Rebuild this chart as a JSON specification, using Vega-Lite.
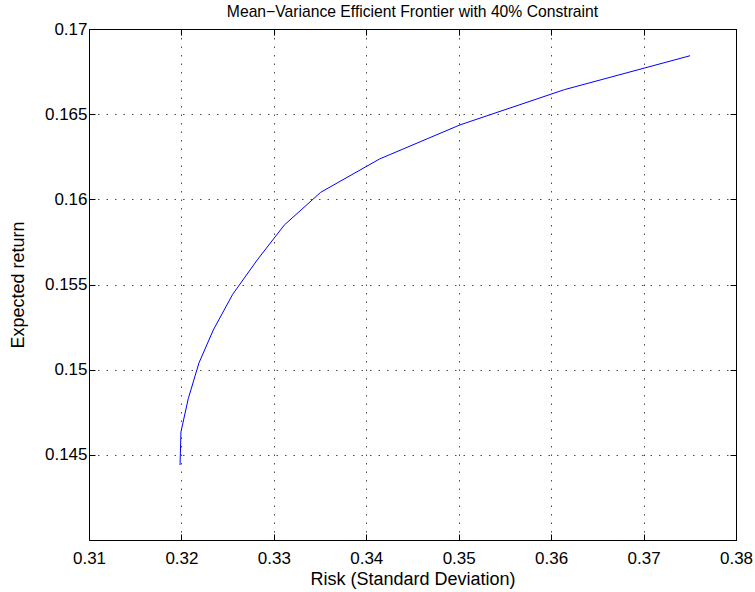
{
  "$schema": "https://vega.github.io/schema/vega-lite/v6.json",
  "autosize": {"type": "none"},
  "width": 647,
  "height": 511,
  "padding": {"left": 89, "top": 29, "right": 19, "bottom": 52},
  "background": "white",
  "config": {
    "font": "Liberation Sans",
    "view": {"stroke": "black", "strokeWidth": 1},
    "axis": {
      "labelFont": "Liberation Sans",
      "titleFont": "Liberation Sans",
      "labelFontSize": 17,
      "titleFontSize": 18,
      "labelColor": "black",
      "titleColor": "black",
      "titleFontWeight": "normal",
      "domainColor": "black",
      "tickColor": "black",
      "tickSize": -6,
      "labelFlush": false,
      "labelOverlap": false,
      "gridColor": "black",
      "gridOpacity": 0.7,
      "gridDash": [1.5, 7],
      "gridWidth": 1
    }
  },
  "title": {
    "text": "Mean\u2212Variance Efficient Frontier with 40% Constraint",
    "font": "Liberation Sans",
    "fontSize": 15.7,
    "fontWeight": "normal",
    "color": "black",
    "anchor": "middle",
    "offset": -1
  },
  "data": {
    "values": [
      {"risk": 0.31985, "ret": 0.1444},
      {"risk": 0.31995, "ret": 0.14635},
      {"risk": 0.32074, "ret": 0.1483},
      {"risk": 0.3219, "ret": 0.1504},
      {"risk": 0.32345, "ret": 0.15233},
      {"risk": 0.32554, "ret": 0.15442},
      {"risk": 0.3282, "ret": 0.15644},
      {"risk": 0.33113, "ret": 0.15849},
      {"risk": 0.33506, "ret": 0.16041},
      {"risk": 0.34144, "ret": 0.16237},
      {"risk": 0.35014, "ret": 0.16437},
      {"risk": 0.36144, "ret": 0.16644},
      {"risk": 0.37503, "ret": 0.16843}
    ]
  },
  "layer": [
    {
      "mark": {"type": "line", "color": "#0000ff", "strokeWidth": 1, "clip": true},
      "encoding": {
        "x": {
          "field": "risk", "type": "quantitative",
          "scale": {"domain": [0.31, 0.38], "nice": false, "zero": false},
          "axis": {
            "title": "Risk (Standard Deviation)",
            "values": [0.31, 0.32, 0.33, 0.34, 0.35, 0.36, 0.37, 0.38],
            "format": "~g",
            "grid": true,
            "labelPadding": 16,
            "titlePadding": 4
          }
        },
        "y": {
          "field": "ret", "type": "quantitative",
          "scale": {"domain": [0.14, 0.17], "nice": false, "zero": false},
          "axis": {
            "title": "Expected return",
            "values": [0.145, 0.15, 0.155, 0.16, 0.165, 0.17],
            "format": "~g",
            "grid": true,
            "labelPadding": 8,
            "titlePadding": 17
          }
        },
        "order": {"field": "ret", "type": "quantitative"}
      }
    },
    {
      "mark": {"type": "line", "opacity": 0},
      "encoding": {
        "x": {
          "field": "risk", "type": "quantitative",
          "scale": {"domain": [0.31, 0.38], "nice": false, "zero": false},
          "axis": {"orient": "top", "title": null, "labels": false, "grid": false,
                   "values": [0.31, 0.32, 0.33, 0.34, 0.35, 0.36, 0.37, 0.38]}
        },
        "y": {
          "field": "ret", "type": "quantitative",
          "scale": {"domain": [0.14, 0.17], "nice": false, "zero": false},
          "axis": {"orient": "right", "title": null, "labels": false, "grid": false,
                   "values": [0.145, 0.15, 0.155, 0.16, 0.165, 0.17]}
        }
      }
    }
  ],
  "resolve": {"axis": {"x": "independent", "y": "independent"}}
}
